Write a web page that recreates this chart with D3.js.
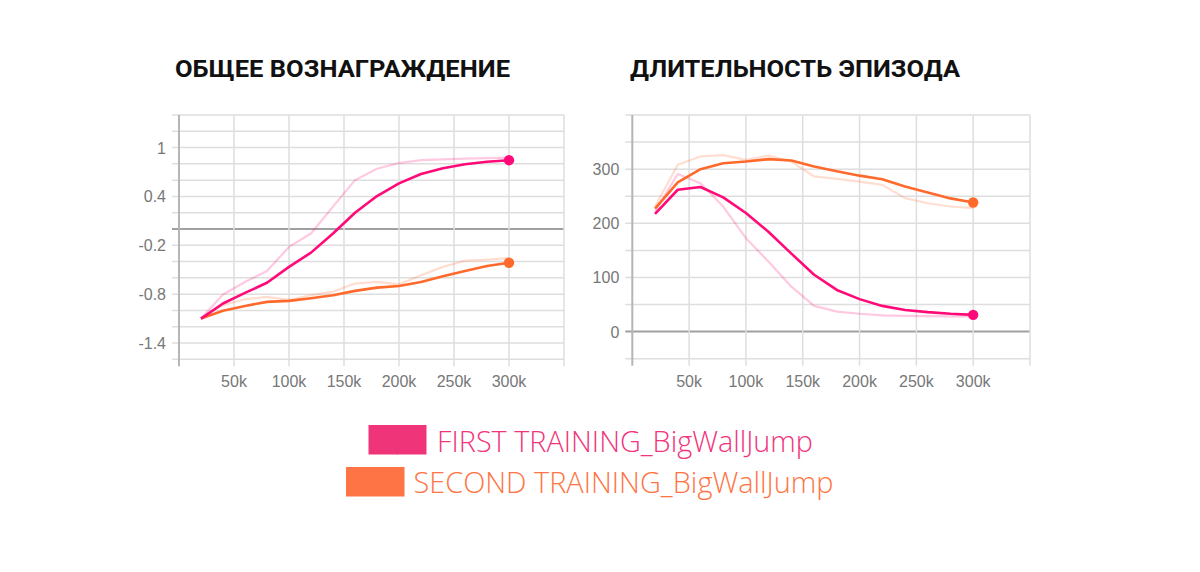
<!DOCTYPE html>
<html><head><meta charset="utf-8">
<script src="https://cdn.jsdelivr.net/npm/d3@7"></script>
<style>html,body{margin:0;padding:0;background:#fff;}svg{display:block;}</style>
</head><body>
<svg id="c" width="1200" height="572"></svg>
<script>
const steps = [20000,40000,60000,80000,100000,120000,140000,160000,180000,200000,220000,240000,260000,280000,300000];
const xTicks = [50000,100000,150000,200000,250000,300000];
const xTickLabels = ["50k","100k","150k","200k","250k","300k"];

// Reward chart
const rewardFirstSmooth = [-1.10,-0.915,-0.785,-0.66,-0.465,-0.29,-0.055,0.20,0.405,0.56,0.675,0.745,0.795,0.825,0.845];
const rewardFirstRaw    = [-1.10,-0.805,-0.65,-0.515,-0.22,-0.055,0.275,0.60,0.74,0.81,0.845,0.855,0.865,0.87,0.877];
const rewardSecondSmooth= [-1.10,-1.005,-0.945,-0.895,-0.883,-0.85,-0.813,-0.76,-0.72,-0.70,-0.65,-0.58,-0.515,-0.455,-0.415];
const rewardSecondRaw   = [-1.10,-0.935,-0.862,-0.833,-0.87,-0.813,-0.77,-0.67,-0.65,-0.68,-0.567,-0.465,-0.39,-0.375,-0.357];
const rewardYTicks = [1,0.4,-0.2,-0.8,-1.4];
const rewardYTickLabels = ["1","0.4","-0.2","-0.8","-1.4"];

// Episode length chart
const lenFirstSmooth = [217.5,262,267,248,219,184,144,105,77,60,47.5,40,36,33,31];
const lenFirstRaw    = [222,291,274,231,172.5,129,83,47.5,37,33,30,29,28.5,28,28];
const lenSecondSmooth= [227,275.5,300,311,314,318.5,316,305,296,288,281.5,268,257,246,238.5];
const lenSecondRaw   = [231,308,323.5,326,317,325,314,286.5,282,277,271,246.5,237,231,228];
const lenYTicks = [300,200,100,0];
const lenYTickLabels = ["300","200","100","0"];

const titles = ["ОБЩЕЕ ВОЗНАГРАЖДЕНИЕ","ДЛИТЕЛЬНОСТЬ ЭПИЗОДА"];
const legendLabels = ["FIRST TRAINING_BigWallJump","SECOND TRAINING_BigWallJump"];

const pink = "#ff0a78", orange = "#ff6a2c";
const svg = d3.select("#c");

function chart(o){
  const g = svg.append("g");
  const x = d3.scaleLinear().domain([0,350000]).range([o.x0,o.x1]);
  const y = d3.scaleLinear().domain(o.ydom).range([o.y1,o.y0]);
  g.append("g").selectAll("line").data(d3.range(o.ydom[0],o.ydom[1]+o.gstep/2,o.gstep)).join("line")
    .attr("x1",o.x0-7).attr("x2",o.x1).attr("y1",d=>y(d)).attr("y2",d=>y(d))
    .attr("stroke",d=>Math.abs(d)<1e-9?"#a0a0a0":"#dedede").attr("stroke-width",d=>Math.abs(d)<1e-9?2:1.5);
  g.append("g").selectAll("line").data(d3.range(50000,350001,50000)).join("line")
    .attr("x1",d=>x(d)).attr("x2",d=>x(d)).attr("y1",o.y0).attr("y2",o.y1+7)
    .attr("stroke","#dedede").attr("stroke-width",1.5);
  g.append("line").attr("x1",o.x0).attr("x2",o.x0).attr("y1",o.y0).attr("y2",o.y1+7)
    .attr("stroke","#b5b5b5").attr("stroke-width",2);
  g.append("g").selectAll("text").data(xTicks).join("text")
    .attr("x",d=>x(d)).attr("y",o.y1+28).attr("text-anchor","middle")
    .attr("font-family","Liberation Sans, Arial, sans-serif").attr("font-size",16).attr("fill","#777")
    .text((d,i)=>xTickLabels[i]);
  g.append("g").selectAll("text").data(o.yt).join("text")
    .attr("x",o.x0-13).attr("y",d=>y(d)+6).attr("text-anchor","end")
    .attr("font-family","Liberation Sans, Arial, sans-serif").attr("font-size",16).attr("fill","#777")
    .text((d,i)=>o.ytl[i]);
  const line = d3.line().x((d,i)=>x(steps[i])).y(d=>y(d));
  o.raw.forEach(s=>{
    g.append("path").attr("d",line(s.v)).attr("fill","none").attr("stroke",s.c)
      .attr("stroke-opacity",0.22).attr("stroke-width",2.2).attr("stroke-linejoin","round");
  });
  o.smooth.forEach(s=>{
    g.append("path").attr("d",line(s.v)).attr("fill","none").attr("stroke",s.c)
      .attr("stroke-width",2.6).attr("stroke-linejoin","round");
    g.append("circle").attr("cx",x(steps[steps.length-1])).attr("cy",y(s.v[s.v.length-1]))
      .attr("r",5.2).attr("fill",s.c);
  });
  svg.append("text").attr("x",o.tx).attr("y",77).attr("font-family","Roboto, sans-serif")
    .attr("font-weight",700).attr("font-size",24).attr("fill","#111")
    .attr("textLength",o.tw).attr("lengthAdjust","spacingAndGlyphs").text(o.title);
}

chart({x0:179,x1:564,y0:115,y1:359.3,ydom:[-1.6,1.4],gstep:0.2,yt:rewardYTicks,ytl:rewardYTickLabels,
  raw:[{v:rewardSecondRaw,c:orange},{v:rewardFirstRaw,c:pink}],
  smooth:[{v:rewardSecondSmooth,c:orange},{v:rewardFirstSmooth,c:pink}],tx:175,tw:335,title:titles[0]});
chart({x0:632.3,x1:1030,y0:115,y1:358.7,ydom:[-50,400],gstep:50,yt:lenYTicks,ytl:lenYTickLabels,
  raw:[{v:lenSecondRaw,c:orange},{v:lenFirstRaw,c:pink}],
  smooth:[{v:lenSecondSmooth,c:orange},{v:lenFirstSmooth,c:pink}],tx:630,tw:330,title:titles[1]});

// legend
const lg = svg.append("g");
lg.append("rect").attr("x",368.5).attr("y",425).attr("width",29).attr("height",29.5).attr("fill","#f0347a");
lg.append("rect").attr("x",397.5).attr("y",425).attr("width",29).attr("height",29.5).attr("fill","#f0347a");
lg.append("line").attr("x1",397.5).attr("x2",397.5).attr("y1",425).attr("y2",454.5).attr("stroke","#e02a6e").attr("stroke-width",0.8);
lg.append("rect").attr("x",346).attr("y",467).attr("width",58.5).attr("height",29.5).attr("fill","#ff7444");
lg.append("text").attr("x",437).attr("y",452).attr("font-family","Open Sans, sans-serif").attr("font-weight",300)
  .attr("font-size",29.5).attr("fill","#f0357c").attr("textLength",376).attr("lengthAdjust","spacingAndGlyphs").text(legendLabels[0]);
lg.append("text").attr("x",413.5).attr("y",493).attr("font-family","Open Sans, sans-serif").attr("font-weight",300)
  .attr("font-size",29.5).attr("fill","#ff7444").attr("textLength",420).attr("lengthAdjust","spacingAndGlyphs").text(legendLabels[1]);
</script>
</body></html>
